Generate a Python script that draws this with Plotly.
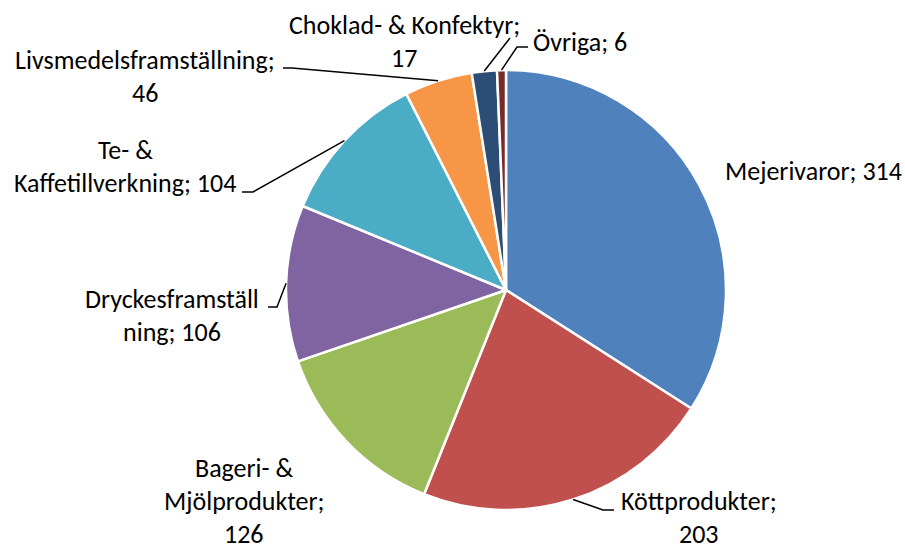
import math
import plotly.graph_objects as go

categories = ["Mejerivaror", "Köttprodukter", "Bageri- & Mjölprodukter", "Dryckesframställning",
              "Te- & Kaffetillverkning", "Livsmedelsframställning", "Choklad- & Konfektyr", "Övriga"]
values = [314, 203, 126, 106, 104, 46, 17, 6]
colors = ["#4F81BD", "#C0504D", "#9BBB59", "#8064A2", "#4BACC6", "#F79646", "#2C4D75", "#772C2A"]

# how each "Category; value" label is wrapped in the picture
label_lines = [
    ["Mejerivaror; {v}"],
    ["Köttprodukter;", "{v}"],
    ["Bageri- &", "Mjölprodukter;", "{v}"],
    ["Dryckesframställ", "ning; {v}"],
    ["Te- &", "Kaffetillverkning; {v}"],
    ["Livsmedelsframställning;", "{v}"],
    ["Choklad- & Konfektyr;", "{v}"],
    ["Övriga; {v}"],
]

W, H = 905, 545
CX, CY, R = 506, 290, 220
FONT = "Carlito, Lato, sans-serif"
FS = 26
LINE_H = 33

# label layout (pixel centre of first line) and leader line bend/end points (style)
label_pos = [(813, 171), (699, 501), (244, 468), (172, 299), (125, 150), (145, 60), (404, 25), (580, 42)]
leaders = [
    None,
    [(603, 510), (614, 510)],
    None,
    [(277, 307), (268, 307)],
    [(253, 192), (242, 192)],
    [(292, 68), (283, 68)],
    [(510, 38)],
    [(517, 47), (528, 47)],
]

def px(x):
    return x / W

def py(y):
    return 1 - y / H

fig = go.Figure(go.Pie(
    labels=categories, values=values, sort=False, direction="clockwise", rotation=0,
    marker=dict(colors=colors, line=dict(color="white", width=2.5)),
    textinfo="none", showlegend=False,
    domain=dict(x=[px(CX - R), px(CX + R)], y=[py(CY + R), py(CY - R)]),
))

total = sum(values)
cum = 0
annotations = []
shapes = []
for i, (cat, v) in enumerate(zip(categories, values)):
    mid = (cum + v / 2) / total * 2 * math.pi
    cum += v
    ex = CX + R * math.sin(mid)
    ey = CY - R * math.cos(mid)
    lx, ly = label_pos[i]
    for k, line in enumerate(label_lines[i]):
        annotations.append(dict(
            x=px(lx), y=py(ly + k * LINE_H), xref="paper", yref="paper",
            text=line.format(v=v), showarrow=False, xanchor="center", yanchor="middle",
            font=dict(family=FONT, size=FS, color="#000000"),
        ))
    if leaders[i]:
        pts = [(ex, ey)] + leaders[i]
        path = "M " + " L ".join(f"{px(a)},{py(b)}" for a, b in pts)
        shapes.append(dict(type="path", path=path, xref="paper", yref="paper",
                           line=dict(color="#000000", width=1.5)))

fig.update_layout(
    width=W, height=H, margin=dict(l=0, r=0, t=0, b=0),
    paper_bgcolor="white", plot_bgcolor="white",
    annotations=annotations, shapes=shapes,
)

fig.write_html(
    "out.html",
    config={"displayModeBar": False},
    post_script="document.body.style.margin='0';document.body.style.overflow='hidden';",
)
